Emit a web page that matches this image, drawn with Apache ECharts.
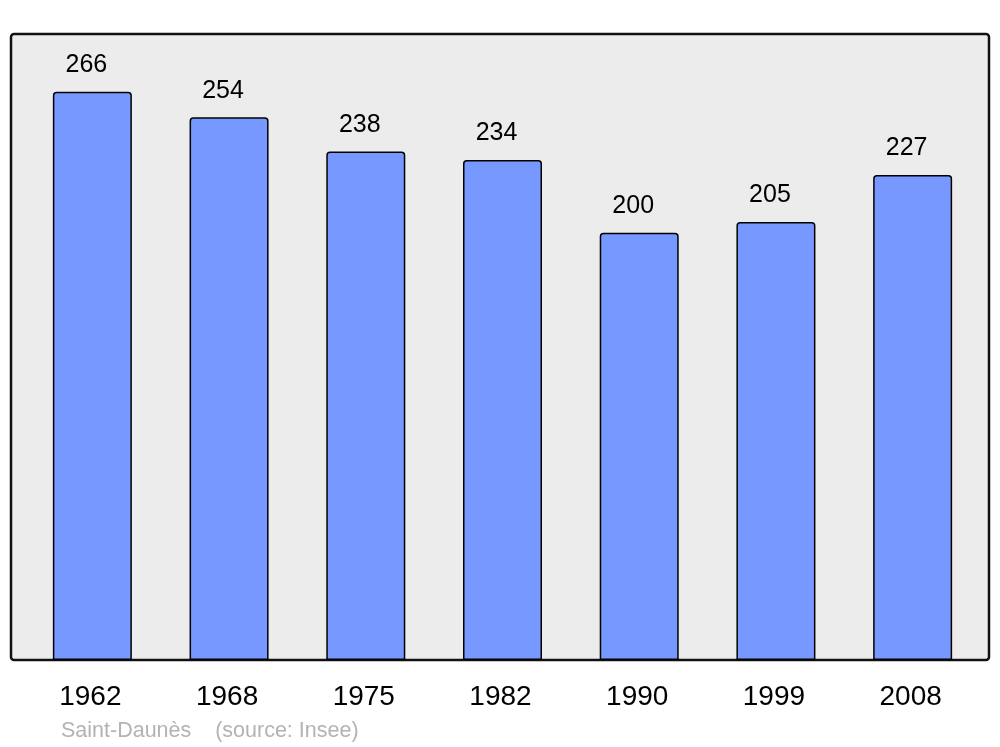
<!DOCTYPE html>
<html>
<head>
<meta charset="utf-8">
<script src="https://cdn.jsdelivr.net/npm/echarts@6/dist/echarts.min.js"></script>
<style>html,body{margin:0;padding:0;background:#fff;}#c{width:1000px;height:747px;}</style>
</head>
<body>
<div id="c"></div>
<script>
const years = ['1962', '1968', '1975', '1982', '1990', '1999', '2008'];
const population = [266, 254, 238, 234, 200, 205, 227];
const footer = 'Saint-Daunès    (source: Insee)';

const chart = echarts.init(document.getElementById('c'), null, {renderer: 'canvas'});
chart.setOption({
  animation: false,
  backgroundColor: '#ffffff',
  graphic: [
    {type: 'rect', z: -10, shape: {x: 11, y: 34, width: 978, height: 626, r: 3},
     style: {fill: '#ececec', stroke: '#111', lineWidth: 2.5}},
    {type: 'text', left: 61, top: 720, style: {text: footer, fill: '#b3b3b3', font: '21.5px "Liberation Sans", Arial, sans-serif'}}
  ],
  grid: {left: 24, right: 19, top: 34, bottom: 87},
  xAxis: {
    type: 'category', data: years,
    axisLine: {show: false}, axisTick: {show: false},
    axisLabel: {color: '#000', fontSize: 28, fontFamily: 'Liberation Sans', margin: 23, padding: [0, 4, 0, 0]}
  },
  yAxis: {type: 'value', min: 0, max: 293, show: false, splitLine: {show: false}},
  series: [{
    type: 'bar', data: population, barWidth: 79,
    itemStyle: {color: '#7799ff', borderColor: '#000', borderWidth: 1.5, borderRadius: [3, 3, 0, 0]},
    label: {show: true, position: 'top', distance: 14, offset: [-6, 0], color: '#000', fontSize: 25, fontFamily: 'Liberation Sans'}
  }]
});
</script>
</body>
</html>
